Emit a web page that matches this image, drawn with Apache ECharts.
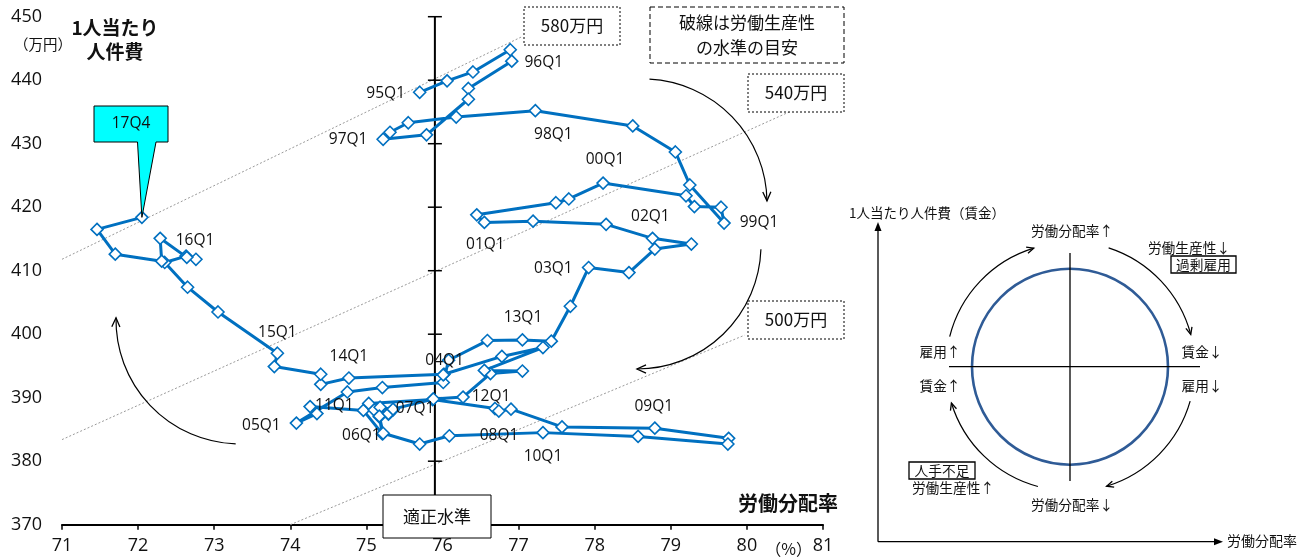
<!DOCTYPE html>
<html>
<head>
<meta charset="utf-8">
<script src="https://cdn.jsdelivr.net/npm/echarts@6/dist/echarts.min.js"></script>
<style>
  html, body { margin: 0; padding: 0; background: #fff; }
  #chart { width: 1300px; height: 558px; }
</style>
</head>
<body>
<div id="chart"></div>
<script>
// Quarterly path: labour share (%) vs. labour cost per employee (10k yen)
const quarters = [
  '95Q1','95Q2','95Q3','95Q4','96Q1','96Q2','96Q3','96Q4',
  '97Q1','97Q2','97Q3','97Q4','98Q1','98Q2','98Q3','98Q4',
  '99Q1','99Q2','99Q3','99Q4','00Q1','00Q2','00Q3','00Q4',
  '01Q1','01Q2','01Q3','01Q4','02Q1','02Q2','02Q3','02Q4',
  '03Q1','03Q2','03Q3','03Q4','04Q1','04Q2','04Q3','04Q4',
  '05Q1','05Q2','05Q3','05Q4','06Q1','06Q2','06Q3','06Q4',
  '07Q1','07Q2','07Q3','07Q4','08Q1','08Q2','08Q3','08Q4',
  '09Q1','09Q2','09Q3','09Q4','10Q1','10Q2','10Q3','10Q4',
  '11Q1','11Q2','11Q3','11Q4','12Q1','12Q2','12Q3','12Q4',
  '13Q1','13Q2','13Q3','13Q4','14Q1','14Q2','14Q3','14Q4',
  '15Q1','15Q2','15Q3','15Q4','16Q1','16Q2','16Q3','16Q4',
  '17Q1','17Q2','17Q3','17Q4'
];
const laborShare = [
  75.70, 76.06, 76.40, 76.89, 76.91, 76.34, 76.34, 75.79,
  75.22, 75.31, 75.55, 76.18, 77.22, 78.50, 79.06, 79.25,
  79.70, 79.66, 79.31, 79.20, 78.11, 77.66, 77.49, 76.45,
  76.55, 77.19, 78.15, 78.76, 79.27, 78.79, 78.45, 77.92,
  77.68, 77.43, 77.05, 76.59, 76.08, 76.01, 75.21, 74.75,
  74.08, 74.35, 74.26, 74.96, 75.21, 75.17, 75.10, 75.18,
  75.35, 75.29, 75.03, 75.87, 76.69, 76.74, 76.90, 77.57,
  78.79, 79.76, 79.75, 78.57, 77.32, 76.09, 75.70, 75.22,
  75.17, 75.29, 75.35, 75.88, 76.27, 76.63, 77.05, 76.55,
  77.32, 76.78, 76.02, 76.01, 74.77, 74.40, 74.40, 73.79,
  73.83, 73.05, 72.65, 72.35, 72.63, 72.76, 72.64, 72.29,
  72.31, 71.70, 71.46, 72.05
];
const laborCost = [
  438.1, 439.9, 441.3, 444.8, 443.0, 438.7, 437.0, 431.4,
  430.7, 431.8, 433.3, 434.2, 435.2, 432.8, 428.7, 423.5,
  417.5, 420.0, 420.1, 421.8, 423.8, 421.3, 420.7, 418.8,
  417.6, 417.8, 417.3, 415.1, 414.2, 413.4, 409.7, 410.5,
  404.4, 398.9, 399.1, 399.0, 395.9, 392.4, 391.6, 390.9,
  386.0, 387.5, 388.6, 388.0, 384.3, 387.0, 388.1, 388.5,
  388.1, 387.4, 389.1, 389.7, 388.3, 387.9, 388.2, 385.4,
  385.2, 383.6, 382.7, 383.9, 384.5, 384.0, 382.7, 384.4,
  387.1, 387.5, 388.2, 389.8, 390.1, 393.8, 394.2, 394.3,
  397.9, 396.5, 393.7, 393.6, 393.1, 392.1, 393.7, 394.9,
  397.0, 403.5, 407.4, 411.3, 412.3, 411.8, 412.1, 415.1,
  411.5, 412.6, 416.5, 418.4
];
// Quarters that carry a text tag on the chart
const taggedQuarters = ['95Q1','96Q1','97Q1','98Q1','99Q1','00Q1','01Q1','02Q1','03Q1',
  '04Q1','05Q1','06Q1','07Q1','08Q1','09Q1','10Q1','11Q1','12Q1','13Q1','14Q1','15Q1','16Q1'];
const latestQuarter = '17Q4';

// Labour productivity guide lines (10k yen): cost = productivity x share
const productivityLevels = [580, 540, 500];
const productivitySpan = [[71, 77.05], [71, 80.66], [74, 79.97]];

const xTicks = [71, 72, 73, 74, 75, 76, 77, 78, 79, 80, 81];
const yTicks = [370, 380, 390, 400, 410, 420, 430, 440, 450];
const appropriateShare = 75.9;

// label offsets (px) relative to the tagged marker
const tagOffset = {
  '95Q1': [-34, 1], '96Q1': [32, 1], '97Q1': [-35, 0], '98Q1': [18, 24],
  '99Q1': [35, 0], '00Q1': [2, -23], '01Q1': [1, 22], '02Q1': [-41, -27],
  '03Q1': [-17, -38], '04Q1': [-4, 0], '05Q1': [-35, 2], '06Q1': [-21, 2],
  '07Q1': [22, -1], '08Q1': [4, 27], '09Q1': [-1, -22], '10Q1': [0, 24],
  '11Q1': [-45, -11], '12Q1': [28, 0], '13Q1': [-20, -30], '14Q1': [0, -21],
  '15Q1': [0, -21], '16Q1': [9, -16]
};

const points = laborShare.map((x, i) => {
  const q = quarters[i];
  const item = { value: [x, laborCost[i]], name: q };
  if (taggedQuarters.includes(q)) {
    const off = tagOffset[q] || [0, -18];
    item.label = { show: true, formatter: q, position: 'inside', offset: off };
  }
  return item;
});

const guideSeries = productivityLevels.map((p, k) => ({
  type: 'line',
  name: p + '万円',
  data: productivitySpan[k].map(x => [x, +(p * x / 100).toFixed(2)]),
  symbol: 'none',
  silent: true,
  z: 1,
  lineStyle: { color: '#9a9a9a', width: 1, type: [2, 2] }
}));

const CJK = '"Noto Sans CJK JP", "Noto Sans", sans-serif';
const NUM = '"Open Sans", "Noto Sans", sans-serif';

const chart = echarts.init(document.getElementById('chart'), null, { renderer: 'canvas' });

const option = {
  animation: false,
  backgroundColor: '#ffffff',
  textStyle: { fontFamily: CJK },
  grid: { left: 62, right: 477, top: 16.7, bottom: 33.3 },
  xAxis: {
    type: 'value', min: 71, max: 81, interval: 1,
    axisLine: { show: true, lineStyle: { color: '#000', width: 2 } },
    axisTick: { show: true, length: 5, lineStyle: { color: '#000', width: 1.5 } },
    axisLabel: { color: '#111', fontSize: 18, margin: 12, fontFamily: NUM },
    splitLine: { show: false }
  },
  yAxis: {
    type: 'value', min: 370, max: 450, interval: 10,
    axisLine: { show: false }, axisTick: { show: false },
    axisLabel: { color: '#111', fontSize: 18, margin: 20, fontFamily: NUM },
    splitLine: { show: false }
  },
  series: [
    ...guideSeries,
    {
      // the appropriate-level axis with cross ticks
      type: 'custom',
      silent: true,
      z: 3,
      data: yTicks.map(v => [appropriateShare, v]),
      renderItem: (params, api) => {
        const p = api.coord([api.value(0), api.value(1)]);
        const children = [{
          type: 'line',
          shape: { x1: p[0] - 7, y1: p[1], x2: p[0] + 7, y2: p[1] },
          style: { stroke: '#000', lineWidth: 1.5 }
        }];
        if (params.dataIndex === 0) {
          const top = api.coord([appropriateShare, yTicks[yTicks.length - 1]]);
          children.push({
            type: 'line',
            shape: { x1: p[0], y1: p[1], x2: top[0], y2: top[1] },
            style: { stroke: '#000', lineWidth: 2 }
          });
        }
        return { type: 'group', children };
      }
    },
    {
      type: 'line',
      name: '1人当たり人件費',
      data: points,
      z: 5,
      symbol: 'diamond',
      symbolSize: 12,
      itemStyle: { color: '#ffffff', borderColor: '#0070C0', borderWidth: 1.6 },
      lineStyle: { color: '#0070C0', width: 3 },
      label: { color: '#111', fontSize: 15.5, fontFamily: NUM },
      emphasis: { disabled: true }
    }
  ]
};
chart.setOption(option);

// annotation graphics
function arcArrow(cx, cy, r, a0, a1, headLen) {
  // clockwise arc from angle a0 to a1 (degrees, canvas orientation) with a head at a1
  const rad = d => d * Math.PI / 180;
  const ex = cx + r * Math.cos(rad(a1)), ey = cy + r * Math.sin(rad(a1));
  const tx = -Math.sin(rad(a1)), ty = Math.cos(rad(a1));
  const nx = -ty, ny = tx;
  const h = headLen || 9, w = h * 0.45;
  return [
    { type: 'arc', shape: { cx, cy, r, startAngle: rad(a0), endAngle: rad(a1), clockwise: true },
      style: { stroke: '#000', lineWidth: 1.2, fill: null }, z: 20 },
    { type: 'polyline', shape: { points: [
        [ex - tx * h + nx * w, ey - ty * h + ny * w], [ex, ey], [ex - tx * h - nx * w, ey - ty * h - ny * w]
      ] }, style: { stroke: '#000', lineWidth: 1.3, fill: null }, z: 20 }
  ];
}
function textBox(x, y, w, h, text, opts) {
  opts = opts || {};
  return [
    { type: 'rect', shape: { x, y, width: w, height: h },
      style: { fill: opts.fill || '#fff', stroke: '#000', lineWidth: opts.lw || 1, lineDash: opts.dash || null }, z: 30 },
    { type: 'text', x: x + w / 2, y: y + h / 2, z: 31,
      style: { text, fill: '#111', font: (opts.weight || 'normal') + ' ' + (opts.size || 17) + 'px ' + CJK,
        align: 'center', verticalAlign: 'middle', lineHeight: opts.lineHeight || 22 } }
  ];
}
function txt(x, y, text, size, align, weight, lineHeight, family) {
  return { type: 'text', x, y, z: 31,
    style: { text, fill: '#111', font: (weight || 'normal') + ' ' + size + 'px ' + (family || CJK),
      align: align || 'center', verticalAlign: 'middle', lineHeight: lineHeight || size * 1.3 } };
}

const tip = chart.convertToPixel({ gridIndex: 0 }, [laborShare[laborShare.length - 1], laborCost[laborCost.length - 1]]);

let g = [];
// axis titles
g.push(txt(115, 40, '1人当たり\n人件費', 19, 'center', 'bold', 24));
g.push(txt(43, 44, '（万円）', 14.5, 'center'));
g.push(txt(838, 503, '労働分配率', 20, 'right', 'bold'));
g.push(txt(812, 549, '（%）', 16, 'right'));
// guide line captions
g = g.concat(textBox(524, 7, 96, 38, '580万円', { dash: [2, 2], size: 17 }));
g = g.concat(textBox(748, 74, 96, 38, '540万円', { dash: [2, 2], size: 17 }));
g = g.concat(textBox(748, 301, 96, 38, '500万円', { dash: [2, 2], size: 17 }));
g = g.concat(textBox(650, 7, 194, 56, '破線は労働生産性\nの水準の目安', { dash: [5, 3], size: 17, lineHeight: 25 }));
g = g.concat(textBox(383, 495, 108, 43, '適正水準', { size: 17 }));
// latest-quarter callout
g.push({ type: 'polygon', z: 32, shape: { points: [[94, 106], [168, 106], [168, 142], [156, 142], [tip[0], tip[1]], [137.5, 142], [94, 142]] },
  style: { fill: '#00FFFF', stroke: '#000', lineWidth: 1 } });
g.push(Object.assign(txt(131, 124, latestQuarter, 15.5, 'center', 'normal', 20, NUM), { z: 33 }));
// cycle arrows on the chart
g = g.concat(arcArrow(643, 203, 124, -87, -1));
g = g.concat(arcArrow(637, 245, 124, 2, 90));
g = g.concat(arcArrow(240, 320, 124, 92, 181));

// schematic of the cycle
const ox = 878, oy = 541.7;
g.push({ type: 'line', shape: { x1: ox, y1: oy, x2: ox, y2: 226 }, style: { stroke: '#000', lineWidth: 1.3 }, z: 20 });
g.push({ type: 'polygon', shape: { points: [[ox, 222], [ox - 3.5, 231], [ox + 3.5, 231]] }, style: { fill: '#000' }, z: 20 });
g.push({ type: 'line', shape: { x1: ox, y1: oy, x2: 1218, y2: oy }, style: { stroke: '#000', lineWidth: 1.3 }, z: 20 });
g.push({ type: 'polygon', shape: { points: [[1223, oy], [1214, oy - 3.5], [1214, oy + 3.5]] }, style: { fill: '#000' }, z: 20 });
g.push(txt(849, 213, '1人当たり人件費（賃金）', 13.5, 'left'));
g.push(txt(1227, 541, '労働分配率', 14, 'left'));
const cx = 1070, cy = 366.7;
g.push({ type: 'circle', shape: { cx, cy, r: 98 }, style: { stroke: '#2F5B96', lineWidth: 2.6, fill: null }, z: 20 });
g.push({ type: 'line', shape: { x1: cx, y1: 253, x2: cx, y2: 481 }, style: { stroke: '#000', lineWidth: 1.3 }, z: 20 });
g.push({ type: 'line', shape: { x1: 949, y1: cy, x2: 1200, y2: cy }, style: { stroke: '#000', lineWidth: 1.3 }, z: 20 });
g = g.concat(arcArrow(cx, cy, 124, -166, -107, 7));
g = g.concat(arcArrow(cx, cy, 125, -72, -15, 7));
g = g.concat(arcArrow(cx, cy, 125, 16, 73, 7));
g = g.concat(arcArrow(cx, cy, 124, 105, 163, 7));
g.push(txt(1072, 231, '労働分配率↑', 13.7));
g.push(txt(1189, 248, '労働生産性↓', 13.7));
g = g.concat(textBox(1171, 256, 65, 17, '過剰雇用', { size: 13.7, lw: 1.3 }));
g.push(txt(1202, 352, '賃金↓', 13.7));
g.push(txt(1202, 386, '雇用↓', 13.7));
g.push(txt(940, 352, '雇用↑', 13.7));
g.push(txt(940, 386, '賃金↑', 13.7));
g = g.concat(textBox(909, 462, 66, 17, '人手不足', { size: 13.7, lw: 1.3 }));
g.push(txt(953, 488, '労働生産性↑', 13.7));
g.push(txt(1072, 505, '労働分配率↓', 13.7));

chart.setOption({ graphic: g });
</script>
</body>
</html>
